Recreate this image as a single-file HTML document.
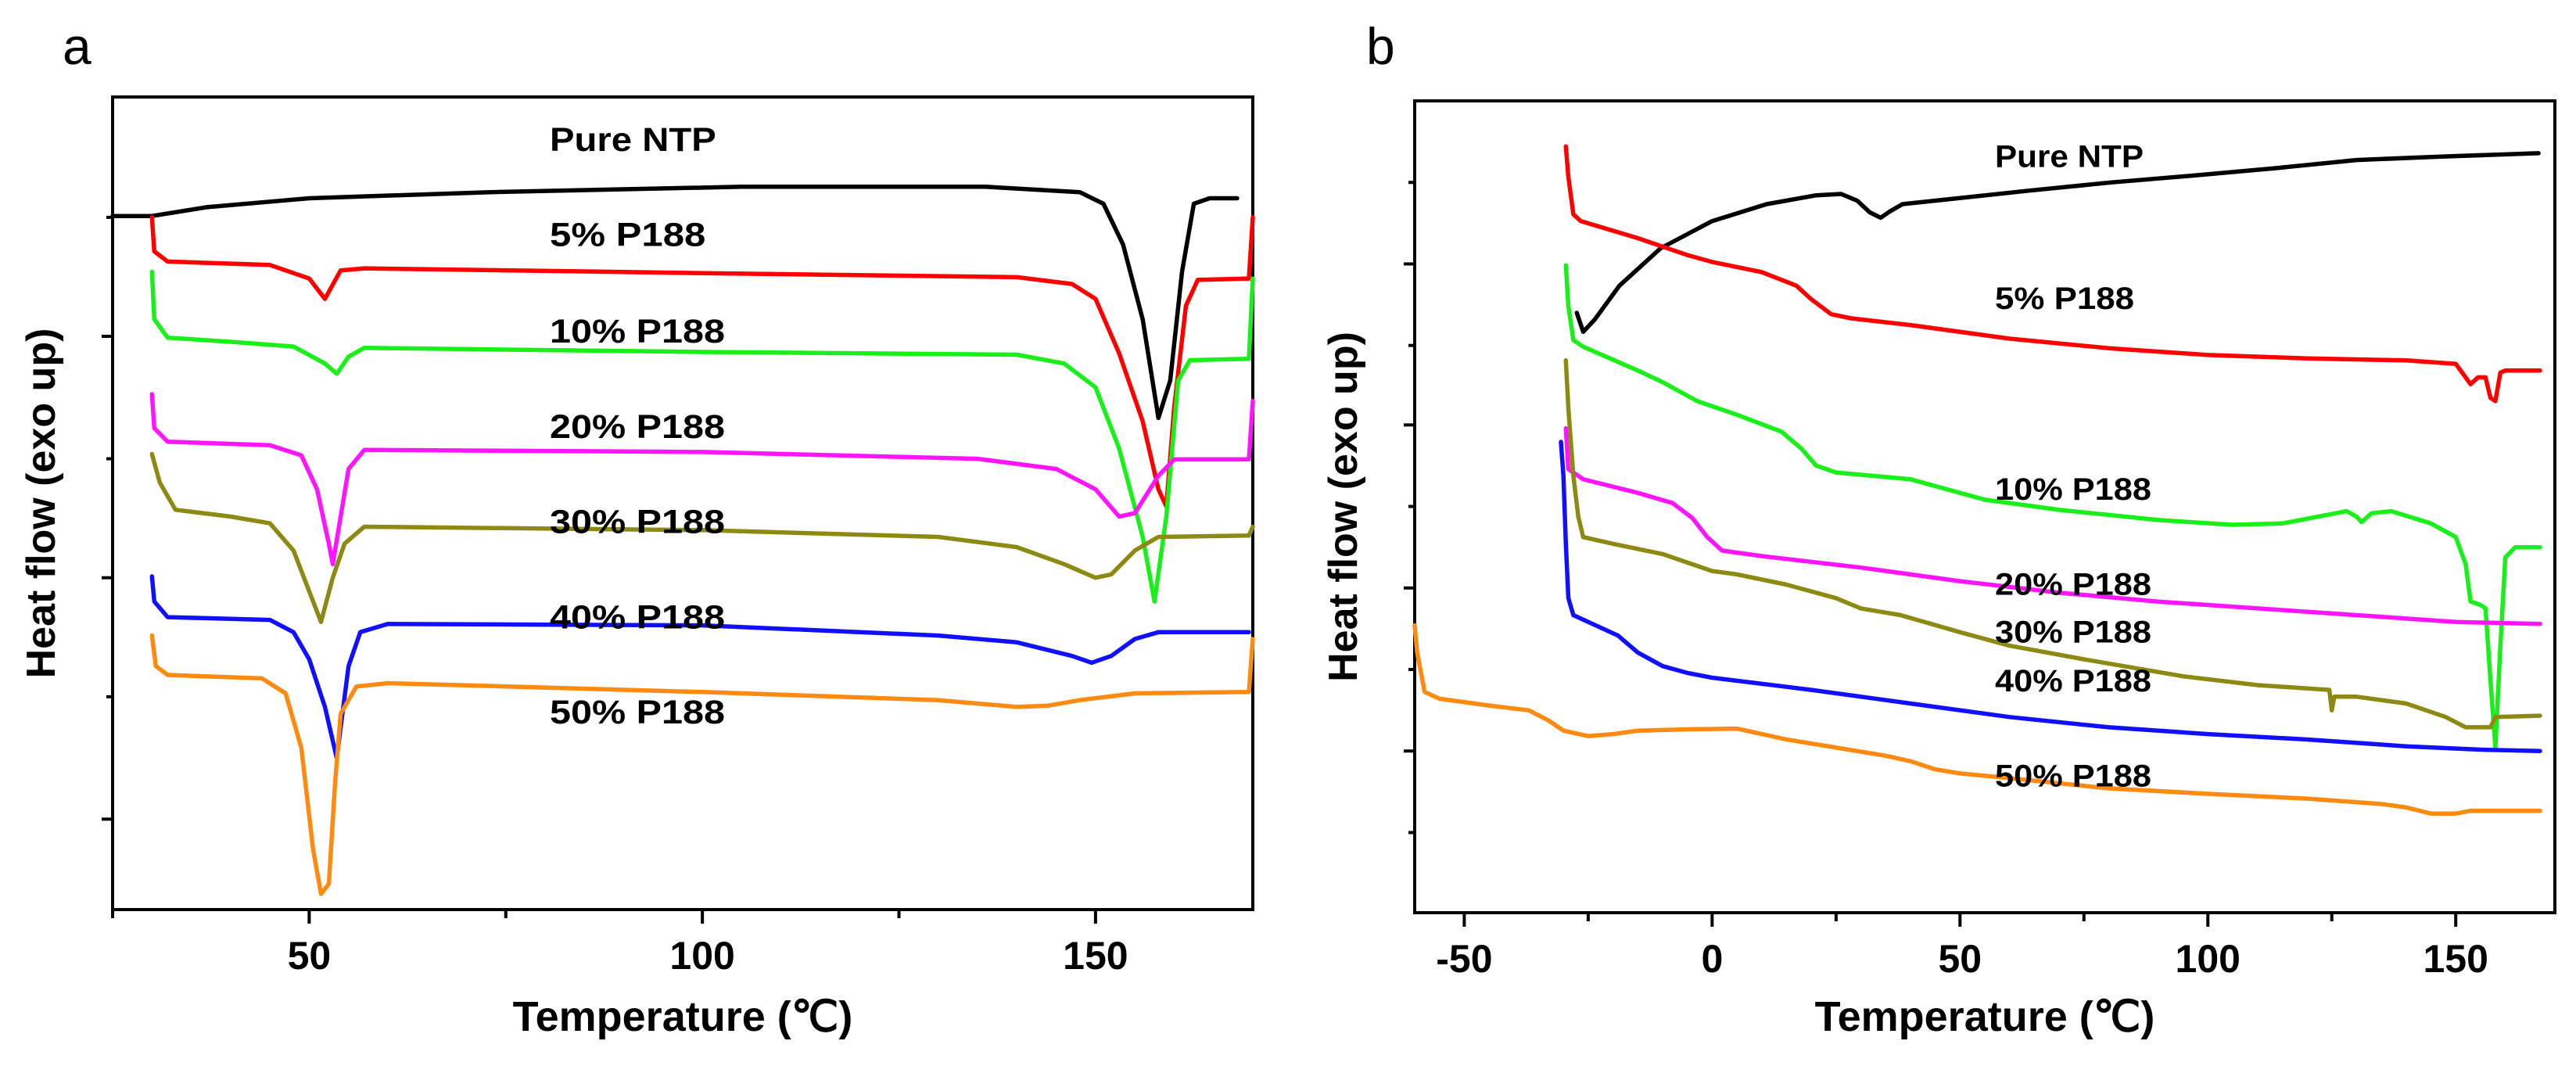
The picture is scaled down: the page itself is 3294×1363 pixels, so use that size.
<!DOCTYPE html>
<html><head><meta charset="utf-8"><style>
html,body{margin:0;padding:0;background:#fff;}
svg{display:block;}
text{font-family:"Liberation Sans",Arial,sans-serif;}
</style></head><body>
<svg id="fig" width="3294" height="1363" viewBox="0 0 3294 1363" xmlns="http://www.w3.org/2000/svg"></svg>
<script>
// ---- Panel a data (temperature °C, heat-flow signal in arbitrary units, larger = lower on plot) ----
const aSeriesNames = ["pure-ntp","5-p188","10-p188","20-p188","30-p188","40-p188","50-p188"];
const aLabels = ["Pure NTP","5% P188","10% P188","20% P188","30% P188","40% P188","50% P188"];
const colors = ["#000000","#ff0000","#19f019","#ff14ff","#8c8a12","#1010ff","#ff8a10"];
const aPure = [[25,318],[30,318],[37,305],[50,292],[73,283],[105,275],[136,275],[148,283],[151,300],[153.5,360],[156,470],[158,615],[159.5,560],[161,400],[162.5,300],[164.5,292],[168,292]];
const a5 = [[30,320],[30.3,370],[32,385],[45,390],[50,410],[52,440],[54,398],[57,395],[100,402],[140,408],[147,418],[150,440],[153,520],[156,620],[158,720],[159,745],[160,600],[161.5,450],[163,412],[169.5,410],[170,320]];
const a10 = [[30,400],[30.3,470],[32,497],[40,503],[48,510],[52,535],[53.5,550],[55,525],[57,512],[100,518],[140,522],[146,535],[150,570],[153,660],[156,790],[157.5,885],[159,760],[160.5,560],[162,530],[169.5,528],[170,410]];
const a20 = [[30,580],[30.3,630],[32,650],[45,655],[49,670],[51,720],[52.5,800],[53,830],[54,760],[55,690],[57,662],[100,665],[135,675],[145,690],[150,720],[153,760],[155,755],[158,700],[160,676],[169.5,676],[170,590]];
const a30 = [[30,668],[31,710],[33,750],[40,760],[45,770],[48,810],[50,870],[51.5,915],[53,850],[54.5,800],[57,775],[100,780],[130,790],[140,805],[146,830],[150,850],[152,845],[155,810],[158,790],[169.5,788],[170,775]];
const a40 = [[30,848],[30.3,885],[32,908],[45,912],[48,930],[50,970],[52,1040],[53.5,1115],[55,980],[56.5,930],[60,918],[100,920],[130,935],[140,945],[147,965],[149.5,975],[152,965],[155,940],[158,930],[169.5,930]];
const a50 = [[30,935],[30.5,980],[32,993],[44,998],[47,1020],[49,1100],[50.5,1250],[51.5,1315],[52.5,1300],[53.3,1150],[54,1050],[56,1010],[60,1005],[100,1018],[130,1030],[140,1040],[144,1038],[148,1030],[155,1020],[169.5,1018],[170,940]];
const aXTicks = [50,100,150];
const aXMinor = [25,75,125];
const aYTicks = [320,495,675,850,1025,1205];
const aLabelSignal = [205,345,487,627,767,907,1047];

// ---- Panel b data ----
const bPure = [[-27.3,460],[-26,488],[-23.7,470],[-18.7,420],[-10.4,365],[0,325],[11,300],[21,287],[26,285],[29.3,295],[31.8,312],[34,320],[36,310],[38.4,300],[47.5,293],[64,280],[80.6,268],[97,258],[113.7,247],[130,235],[147,230],[166.7,225]];
const b5 = [[-29.5,215],[-29,260],[-28,315],[-26.5,325],[-15,350],[-5,375],[0,385],[10,400],[17,420],[20,440],[24,462],[28,468],[40,478],[60,498],[80,512],[100,522],[120,527],[140,530],[150,535],[152,555],[153,565],[154.5,555],[156,555],[157,585],[158,590],[159,548],[160,545],[167,545]];
const b10 = [[-29.5,390],[-29,450],[-28,500],[-26,510],[-15,545],[-10,562],[-3,590],[5,610],[14,635],[18,660],[21,685],[25,695],[40,705],[55,735],[70,750],[90,765],[105,772],[115,770],[128,752],[130,760],[131,768],[133,755],[137,752],[145,770],[150,790],[152,830],[153,885],[155,890],[156,895],[157,1000],[158,1100],[159,950],[160,820],[162,805],[167,805]];
const b20 = [[-29.5,630],[-29,690],[-26,705],[-15,725],[-8,740],[-4,762],[-1,790],[2,810],[10,818],[30,835],[50,855],[70,872],[90,885],[110,895],[130,905],[150,915],[167,918]];
const b30 = [[-29.5,530],[-29,600],[-28,700],[-27,760],[-26,790],[-20,800],[-10,815],[0,840],[5,845],[15,860],[25,880],[30,895],[38,905],[50,930],[60,950],[75,970],[95,995],[110,1008],[124.5,1015],[125,1045],[125.5,1025],[130,1025],[140,1035],[148,1055],[152,1070],[157,1070],[158,1055],[167,1053]];
const b40 = [[-30.5,650],[-30,700],[-29.5,800],[-29,880],[-28,905],[-25,915],[-19,935],[-15,960],[-10,980],[-5,990],[0,997],[20,1015],[40,1035],[60,1055],[80,1070],[100,1080],[120,1088],[140,1098],[155,1103],[167,1105]];
const b50 = [[-60,920],[-59.5,960],[-58,1018],[-55,1028],[-45,1038],[-37,1045],[-33,1060],[-30,1075],[-25,1083],[-20,1080],[-15,1075],[-5,1073],[5,1072],[10,1080],[15,1088],[25,1100],[35,1112],[40,1120],[45,1132],[50,1138],[60,1145],[80,1160],[100,1168],[120,1175],[135,1183],[140,1188],[145,1197],[150,1197],[153,1193],[167,1193]];
const bXTicks = [-50,0,50,100,150];
const bXMinor = [-25,25,75,125];
const bYTicks = [268,388,508,625,745,865,985,1105,1225];
const bLabelSignal = [228,437,718,858,928,1000,1140];

const NS = "http://www.w3.org/2000/svg";
const svg = document.getElementById("fig");
function el(tag, attrs, parent){ const e=document.createElementNS(NS,tag); for(const k in attrs) e.setAttribute(k,attrs[k]); (parent||svg).appendChild(e); return e; }

function panel(cfg){
  const g = el("g",{});
  
  
  const xs = t => cfg.L + (t - cfg.x0)/(cfg.x1 - cfg.x0)*(cfg.R - cfg.L);
  const ys = s => cfg.T + (s - cfg.s0)/(cfg.s1 - cfg.s0)*(cfg.B - cfg.T);
  const fr = el("rect",{x:cfg.L,y:cfg.T,width:cfg.R-cfg.L,height:cfg.B-cfg.T,fill:"none",stroke:"#000","stroke-width":4},g);
  
  
  cfg.xt.forEach(t=>{
    const tk = el("line",{x1:xs(t),x2:xs(t),y1:cfg.B,y2:cfg.B+18,stroke:"#000","stroke-width":4},g);
    
    
    const tl = el("text",{x:xs(t),y:cfg.B+76,"text-anchor":"middle","font-size":50,"font-weight":"bold"},g);
    tl.textContent = t;
    
    
  });
  cfg.xm.forEach(t=>{
    const tk = el("line",{x1:xs(t),x2:xs(t),y1:cfg.B,y2:cfg.B+11,stroke:"#000","stroke-width":4},g);
    
    
  });
  cfg.yt.forEach((s,i)=>{
    const len = (i%2===cfg.majorPar)?14:8;
    const tk = el("line",{x1:cfg.L-len,x2:cfg.L,y1:ys(s),y2:ys(s),stroke:"#000","stroke-width":4},g);
    
    
  });
  cfg.series.forEach((pts,i)=>{
    const d = pts.map((p,j)=>(j?"L":"M")+xs(p[0]).toFixed(1)+","+ys(p[1]).toFixed(1)).join(" ");
    const p = el("path",{d:d,fill:"none",stroke:colors[i],"stroke-width":5.5,"stroke-linejoin":"round","stroke-linecap":"round"},g);
    
    
  });
  cfg.lblS.forEach((s,i)=>{
    const base = (i===0?190:(i===1?178:200));
    const t = el("text",{x:cfg.lblX,y:ys(s)+15,"font-size":cfg.lblFont,"font-weight":"bold","textLength":base*cfg.lblScale,"lengthAdjust":"spacingAndGlyphs"},g);
    t.textContent = aLabels[i];
    
    
  });
  const yt = el("text",{x:0,y:0,"font-size":52,"font-weight":"900","text-anchor":"middle",transform:`translate(${cfg.yTitleX},${(cfg.T+cfg.B)/2}) rotate(-90)`},g);
  yt.textContent = "Heat flow (exo up)";
  
  
  const xt = el("text",{x:cfg.xTitleX,y:1318,"font-size":54,"font-weight":"bold","text-anchor":"middle"},g);
  xt.textContent = "Temperature (℃)";
  
  
  const pl = el("text",{x:cfg.letterX,y:82,"font-size":66},g);
  pl.textContent = cfg.letter;
  
  
}

panel({name:"panel-a",L:144,R:1602,T:124,B:1163,x0:25,x1:170,s0:143,s1:1338,
  xt:aXTicks,xm:aXMinor,yt:aYTicks,majorPar:1,series:[aPure,a5,a10,a20,a30,a40,a50],
  lblS:aLabelSignal,lblX:703,lblFont:43,lblScale:1.12,yTitleX:70,xTitleX:873,letter:"a",letterX:80});
panel({name:"panel-b",L:1809,R:3267,T:129,B:1167,x0:-60,x1:170,s0:148,s1:1343,
  xt:bXTicks,xm:bXMinor,yt:bYTicks,majorPar:1,series:[bPure,b5,b10,b20,b30,b40,b50],
  lblS:bLabelSignal,lblX:2551,lblFont:40,lblScale:1,yTitleX:1735,xTitleX:2538,letter:"b",letterX:1747});
</script>
</body></html>
